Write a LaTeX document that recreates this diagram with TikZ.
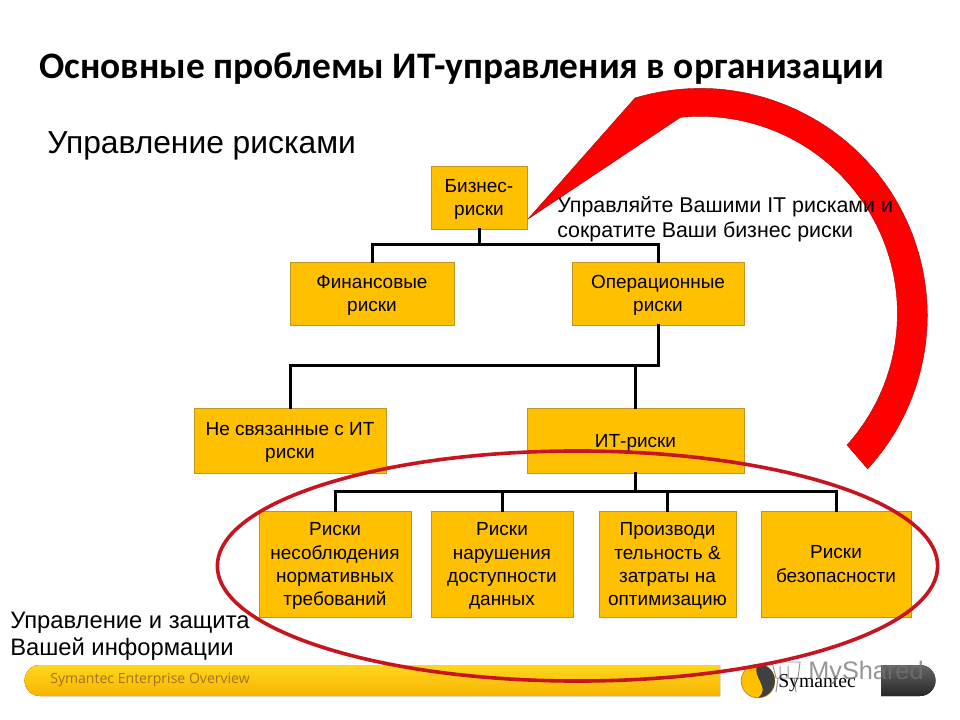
\documentclass[tikz,border=0pt]{standalone}
\usepackage{fontspec}
\setmainfont{Liberation Sans}
\newfontfamily\titlefont{Carlito}
\newfontfamily\footfont{Open Sans}
\newfontfamily\logofont{Liberation Serif}
\definecolor{riskbox}{RGB}{255,192,0}
\definecolor{riskedge}{RGB}{190,150,40}
\definecolor{arrowred}{RGB}{255,0,0}
\definecolor{ringred}{RGB}{200,20,30}
\definecolor{footbrown}{RGB}{165,115,30}
\definecolor{foottop}{RGB}{255,214,30}
\definecolor{footlow}{RGB}{247,180,0}
\tikzset{
  riskbox/.style 2 args={draw=riskedge, fill=riskbox, line width=0.6pt, align=center,
    minimum width=#1*0.025cm, minimum height=#2*0.025cm, inner sep=0pt, text depth=0pt,
    font=\fontsize{13.5}{16.4}\selectfont},
  link/.style={line width=0.075cm, line cap=rect},
  note/.style={anchor=west, inner sep=0pt, align=left},
}
\begin{document}
\begin{tikzpicture}[x=0.025cm,y=-0.025cm]
  \useasboundingbox (0,0) rectangle (960,720);
  \fill[white] (0,0) rectangle (960,720);

  % footer bar
  \fill[top color=foottop, bottom color=footlow]
    (720,665) -- (40,665) arc[start angle=90, end angle=270, radius=0.3875cm] -- (720,696) -- cycle;
  \fill[top color=black!60, bottom color=black!85]
    (881,665) -- (920,665) arc[start angle=90, end angle=-90, radius=0.3875cm] -- (881,696) -- cycle;
  % logo
  \fill[riskbox] (758,681) circle (0.42cm);
  \fill[black!75] (758,664) arc[start angle=90, end angle=-90, radius=0.42cm]
    .. controls (772,688) and (750,676) .. (758,664);
  \node[font=\logofont\fontsize{14}{14}\selectfont, anchor=west, inner sep=0pt] (logotext) at (778,683) {Symantec};
  \draw[black!55, opacity=0.75, line width=0.7pt] (772,662) -- (800,662) -- (798,678) -- (776,678) -- (772,662)
    (780,666) -- (780,678) (788,666) -- (788,678) (778,678) -- (776,692) (794,678) -- (796,692);
  \node[font=\fontsize{18}{18}\selectfont, text=black!55, opacity=0.75, anchor=west, inner sep=0pt] (watermark) at (808,673) {MyShared};
  \node[font=\footfont\fontsize{10}{12}\selectfont, text=footbrown, anchor=west, inner sep=0pt] (foottext) at (50,680) {Symantec Enterprise Overview};

  % big red arrow
  \fill[arrowred, draw=ringred!80!black, line width=0.3pt] (528,219) -- (635,98)
    arc[start angle=106.7, end angle=-42.5, radius=5.675cm]
    -- (847,445)
    arc[start angle=-41.9, end angle=95.8, radius=4.925cm]
    -- cycle;

  % titles
  \node[anchor=west, inner sep=0pt, font=\titlefont\bfseries\fontsize{26.6}{30}\selectfont] (title) at (39,69)
    {Основные проблемы ИТ-управления в организации};
  \node[note, font=\fontsize{22.6}{26}\selectfont] (subtitle) at (47,146) {Управление рисками};
  \node[note, font=\fontsize{15.2}{17.8}\selectfont] (advice) at (557,219)
    {Управляйте Вашими IT рисками и\\сократите Ваши бизнес риски};
  \node[note, font=\fontsize{16.9}{19}\selectfont] (protect) at (10,636)
    {Управление и защита\\Вашей информации};

  % boxes
  \node[riskbox={96}{63}] (business) at (479,197.5) {Бизнес-\\риски};
  \node[riskbox={164}{63}] (finance) at (372,293.5) {Финансовые\\риски};
  \node[riskbox={172}{63}] (oper) at (658,293.5) {Операционные\\риски};
  \node[riskbox={192}{65}] (nonit) at (290,440.5) {Не связанные с ИТ\\риски};
  \node[riskbox={217}{65}] (itrisk) at (635.5,440.5) {ИТ-риски};
  \node[riskbox={152}{106}] (comply) at (335,564) {Риски\\несоблюдения\\нормативных\\требований};
  \node[riskbox={142}{106}] (avail) at (502,564) {Риски\\нарушения\\доступности\\данных};
  \node[riskbox={137}{106}] (perf) at (667.5,564) {Производи\\тельность \&\\затраты на\\оптимизацию};
  \node[riskbox={150}{106}] (secur) at (836,564) {Риски\\безопасности};

  % links
  \coordinate (busA) at (479,245);
  \coordinate (busB) at (658,366);
  \coordinate (busC) at (635.5,492);
  \draw[link] (business.south) -- (busA);
  \draw[link] (finance.north) |- (busA);
  \draw[link] (oper.north) |- (busA);
  \draw[link] (oper.south) -- (busB);
  \draw[link] (nonit.north) |- (busB);
  \draw[link] (itrisk.north) |- (busB);
  \draw[link] (itrisk.south) -- (busC);
  \foreach \n in {comply,avail,perf,secur}
    \draw[link] (\n.north) |- (busC);

  % ring
  \draw[ringred, line width=0.09cm] (577.5,566) ellipse [x radius=9cm, y radius=2.875cm];
\end{tikzpicture}
\end{document}
